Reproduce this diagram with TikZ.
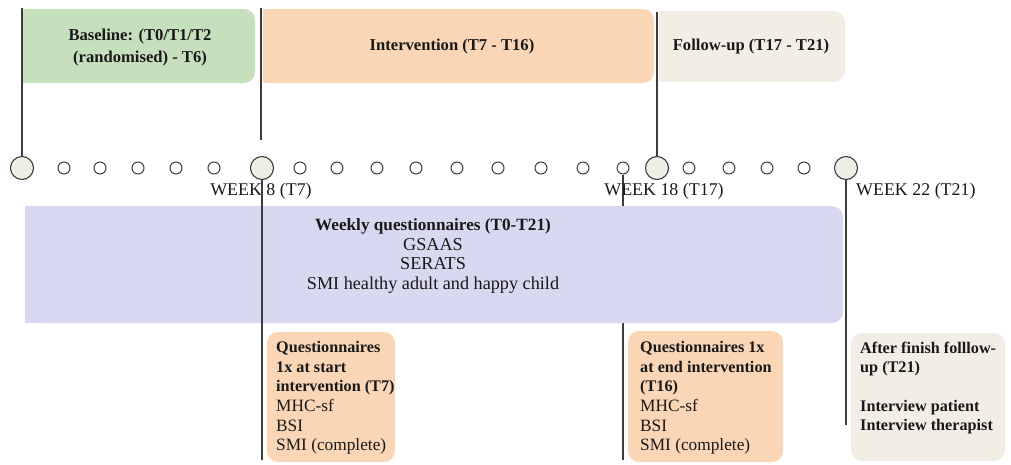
\documentclass[tikz,border=0pt]{standalone}
\usepackage{fontspec}
\setmainfont{Liberation Serif}
\definecolor{bgreen}{RGB}{198,224,190}
\definecolor{bpeach}{RGB}{250,214,182}
\definecolor{bbeige}{RGB}{243,238,229}
\definecolor{blav}{RGB}{216,216,240}
\definecolor{cfill}{RGB}{238,238,228}
\definecolor{lineg}{RGB}{60,60,60}
\definecolor{txt}{RGB}{25,25,25}
\newcommand{\regq}{\fontsize{17.3}{19.6}\selectfont}
\begin{document}
\begin{tikzpicture}[x=1pt,y=-1pt,
  vline/.style={draw=lineg,line width=1.4pt},
  bigc/.style={circle,draw=lineg,line width=1.1pt,fill=cfill,minimum size=23pt,inner sep=0pt},
  smallc/.style={circle,draw=lineg,line width=1pt,fill=white,minimum size=12pt,inner sep=0pt},
  band/.style={rectangle,rounded corners=11pt,inner sep=0pt},
  boldlbl/.style={font=\fontsize{16.6}{22}\selectfont\bfseries,text=txt,align=center},
  wlbl/.style={font=\fontsize{17.9}{20}\selectfont,text=txt},
  qtext/.style={font=\fontsize{16.2}{19.6}\selectfont,text=txt,align=left,inner sep=0pt}
]
\useasboundingbox (0,0) rectangle (1011,464);

% top phase boxes
\node[band,fill=bgreen,minimum width=232pt,minimum height=74pt] (base) at (139,46) {};
\fill[bgreen] (base.north west) rectangle ([xshift=14pt]base.south west);
\node[band,fill=bpeach,minimum width=391pt,minimum height=74pt] (interv) at (458.5,46) {};
\fill[bpeach] (interv.north west) rectangle ([xshift=14pt]interv.south west);
\node[band,fill=bbeige,minimum width=186pt,minimum height=71pt] (follow) at (752,46.5) {};
\fill[bbeige] (follow.north west) rectangle ([xshift=14pt]follow.south west);

\node[boldlbl] (basetxt) at (140,48) {Baseline: (T0/T1/T2\\(randomised) - T6)};
\node[boldlbl] (intervtxt) at (452,47) {Intervention (T7 - T16)};
\node[boldlbl] (followtxt) at (751,47) {Follow-up (T17 - T21)};

% timeline circles
\foreach \n/\x in {0/22,7/262,17/657,21/846}
  \node[bigc] (c\n) at (\x,168) {};
\foreach \n/\x in {1/64,2/100,3/138,4/176,5/214,
                   8/300,9/337,10/377,11/416,12/457,13/498,14/541,15/583,16/623,
                   18/689,19/729,20/767}
  \node[smallc] (c\n) at (\x,168) {};
\node[smallc] (c20b) at (804,168) {};

% top connector lines
\coordinate (t0) at (22,8);
\coordinate (t7a) at (261,8);
\coordinate (t7b) at (261,140);
\coordinate (t17) at (657,12);
\draw[vline] (t0) -- (c0.north);
\draw[vline] (t7a) -- (t7b);
\draw[vline] (t17) -- (c17.north);

% line under the weekly box
\coordinate (b16) at (623,460);
\draw[vline] (c16.south) -- (b16);

% weekly questionnaire box
\node[band,fill=blav,minimum width=818pt,minimum height=117pt] (weekly) at (434,264.5) {};
\fill[blav] (weekly.north west) rectangle ([xshift=14pt]weekly.south west);
\node[font=\fontsize{18.2}{19.8}\selectfont,text=txt,align=center] (weeklytxt) at (433,256)
  {{\fontsize{17.2}{19.8}\selectfont\bfseries Weekly questionnaires (T0-T21)}\\GSAAS\\SERATS\\SMI healthy adult and happy child};

% week labels
\node[wlbl] (w8) at (261,191) {WEEK 8 (T7)};
\node[wlbl] (w18) at (664,191) {WEEK 18 (T17)};
\node[wlbl,anchor=west,inner sep=0pt] (w22) at (856,191) {WEEK 22 (T21)};

% lines down
\coordinate (b7) at (262,460);
\coordinate (b21) at (846,425);
\draw[vline] (c7.south) -- (b7);
\draw[vline] (c21.south) -- (b21);

% bottom boxes
\node[band,fill=bpeach,minimum width=128pt,minimum height=130pt] (q1) at (331,397) {};
\node[band,fill=bpeach,minimum width=155pt,minimum height=131pt] (q2) at (705.5,396.5) {};
\node[band,fill=bbeige,minimum width=154pt,minimum height=128pt] (after) at (928,397) {};

\node[qtext,anchor=west] (q1txt) at (276,398)
  {\textbf{Questionnaires}\\\textbf{1x at start}\\\textbf{intervention (T7)}\\{\regq MHC-sf}\\{\regq BSI}\\{\regq SMI (complete)}};
\node[qtext,anchor=west] (q2txt) at (640,398)
  {\textbf{Questionnaires 1x}\\\textbf{at end intervention}\\\textbf{(T16)}\\{\regq MHC-sf}\\{\regq BSI}\\{\regq SMI (complete)}};
\node[qtext,anchor=west,font=\fontsize{16.2}{19.2}\selectfont\bfseries] (aftertxt) at (860,388)
  {After finish folllow-\\up (T21)\\[19.2pt]Interview patient\\Interview therapist};
\end{tikzpicture}
\end{document}
